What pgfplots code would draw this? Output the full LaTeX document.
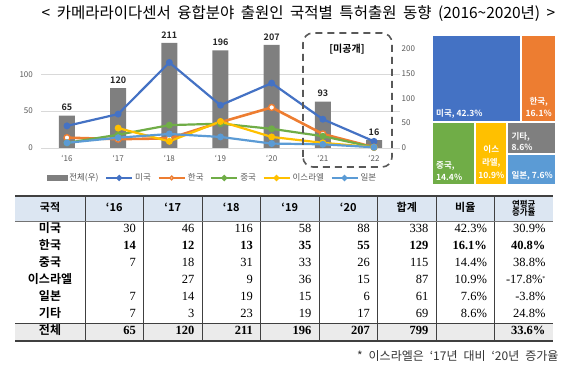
\documentclass[border=0pt]{standalone}
\usepackage{pgfplots}
\pgfplotsset{compat=1.18}
\usepackage{fontspec}
\setmainfont{Noto Sans CJK KR}[BoldFont={Noto Sans CJK KR Bold}]
\newfontfamily\numfont{Liberation Serif}
\definecolor{cUS}{HTML}{4472C4}
\definecolor{cKR}{HTML}{ED7D31}
\definecolor{cCN}{HTML}{70AD47}
\definecolor{cIL}{HTML}{FFC000}
\definecolor{cJP}{HTML}{5B9BD5}
\definecolor{cBar}{HTML}{7F7F7F}
\definecolor{cHead}{HTML}{DCE6F2}
\definecolor{cTot}{HTML}{EBEBEB}
\definecolor{cTick}{HTML}{595959}
\definecolor{cGrid}{HTML}{D9D9D9}
\newcommand\numN{\numfont\fontsize{12.5}{14}\selectfont}
\newcommand\numB{\numfont\bfseries\fontsize{12.5}{14}\selectfont}
\newcommand\nameF{\bfseries\fontsize{12}{13}\selectfont}
% #1 y, #2 font, #3 name, #4..#9: '16 '17 '18 '19 '20 total
\newcommand\trow[9]{%
  \node[font=\nameF,anchor=mid] at (50pt,#1pt) {#3};
  \node[font=#2,anchor=mid east] at (139.5pt,#1pt) {#4};
  \node[font=#2,anchor=mid east] at (198pt,#1pt) {#5};
  \node[font=#2,anchor=mid east] at (256.5pt,#1pt) {#6};
  \node[font=#2,anchor=mid east] at (315pt,#1pt) {#7};
  \node[font=#2,anchor=mid east] at (373.5pt,#1pt) {#8};
  \node[font=#2,anchor=mid east] at (432pt,#1pt) {#9};
}
\newcommand\trowb[4]{%
  \node[font=#2,anchor=mid east] at (490.5pt,#1pt) {#3};
  \node[font=#2,anchor=mid east] at (549pt,#1pt) {#4};
}
\begin{document}
\begin{tikzpicture}
\path[use as bounding box] (0pt,0pt) rectangle (570pt,366pt);
% title
\node[font=\fontsize{15.5}{17}\selectfont] at (298.5pt,352.7pt) {\spaceskip=0.42em < 카메라라이다센서 융합분야 출원인 국적별 특허출원 동향 (2016\textasciitilde 2020년) >};

% ---------- axis A: grid + left ticks + x ticks
\begin{axis}[at={(41.4pt,218pt)}, anchor=south west, scale only axis,
  width=358.2pt, height=110.6pt, xmin=-0.5, xmax=6.5, ymin=0, ymax=150,
  ytick={0,50,100}, ymajorgrids, grid style={cGrid, line width=0.6pt},
  axis line style={draw=none}, major tick length=0pt,
  xtick={0,...,6}, xticklabels={‘16,‘17,‘18,‘19,‘20,‘21,‘22},
  ticklabel style={font=\fontsize{8}{9}\selectfont, text=cTick},
  /pgf/number format/assume math mode=true,
  xticklabel style={yshift=-4pt}, yticklabel style={xshift=-5pt}]
\end{axis}

% ---------- axis B: bars on right axis
\begin{axis}[at={(41.4pt,218pt)}, anchor=south west, scale only axis,
  width=358.2pt, height=110.6pt, xmin=-0.5, xmax=6.5, ymin=0, ymax=221.9,
  axis y line*=right, hide x axis, axis line style={draw=none}, major tick length=0pt,
  ytick={0,50,100,150,200},
  ticklabel style={font=\fontsize{8}{9}\selectfont, text=cTick},
  /pgf/number format/assume math mode=true,
  yticklabel style={xshift=-1.5pt},
  ybar, bar width=16pt,
  nodes near coords,
  every node near coord/.append style={font=\bfseries\fontsize{9}{10}\selectfont, text=black!85, yshift=1pt}]
\addplot[fill=cBar, draw=none] coordinates {(0,65) (1,120) (2,211) (3,196) (4,207) (5,93) (6,16)};
\end{axis}

% ---------- axis C: lines on left axis + legend
\begin{axis}[at={(41.4pt,218pt)}, anchor=south west, scale only axis,
  width=358.2pt, height=110.6pt, xmin=-0.5, xmax=6.5, ymin=0, ymax=150,
  hide axis, clip=false,
  legend style={at={(axis description cs:0.478,-0.271)}, anchor=center, draw=none, fill=none,
    font=\fontsize{8.5}{10}\selectfont, text=cTick,
    /tikz/every even column/.append style={column sep=4.5pt}},
  legend columns=6,
  legend image code/.code={\draw[#1,mark=none] (0pt,0pt) -- (26pt,0pt);
     \draw[#1,mark size=1.8pt] plot coordinates {(13pt,0pt)};}]
\addlegendimage{legend image code/.code={\fill[cBar] (0pt,-2.5pt) rectangle (20pt,2.5pt);}}
\addlegendentry{전체(우)}
\addplot[cUS, line width=2.2pt, mark=*, mark size=2.3pt, mark options={fill=cUS}]
  coordinates {(0,30) (1,46) (2,116) (3,58) (4,88) (5,39) (6,9)};
\addlegendentry{미국}
\addplot[cKR, line width=2.6pt, mark=*, mark size=3pt, mark options={fill=white, line width=1.4pt}]
  coordinates {(0,14) (1,12) (2,13) (3,35) (4,55) (5,19) (6,1)};
\addlegendentry{한국}
\addplot[cCN, line width=2.2pt, mark=*, mark size=2.3pt, mark options={fill=cCN}]
  coordinates {(0,7) (1,18) (2,31) (3,33) (4,26) (5,16) (6,1)};
\addlegendentry{중국}
\addplot[cIL, line width=2.2pt, mark=*, mark size=2.3pt, mark options={fill=cIL}]
  coordinates {(1,27) (2,9) (3,36) (4,15) (5,7) (6,1)};
\addlegendentry{이스라엘}
\addplot[cJP, line width=2.2pt, mark=*, mark size=2.3pt, mark options={fill=cJP}]
  coordinates {(0,7) (1,14) (2,19) (3,15) (4,6) (5,5) (6,1)};
\addlegendentry{일본}
\end{axis}

% unpublished box
\draw[cTick, line width=1.6pt, dash pattern=on 7pt off 5pt, rounded corners=10pt]
  (303pt,199pt) rectangle (392pt,333pt);
\node[font=\bfseries\fontsize{10}{11}\selectfont] at (347pt,317pt) {[미공개]};

% ---------- treemap
\begin{axis}[at={(433pt,182pt)}, anchor=south west, scale only axis,
  width=122pt, height=148pt, xmin=0, xmax=122, ymin=0, ymax=148, hide axis, clip=false]
\addplot[fill=cUS, draw=none] coordinates {(0,62.7) (87.3,62.7) (87.3,148) (0,148)};
\addplot[fill=cKR, draw=none] coordinates {(89.3,62.7) (122,62.7) (122,148) (89.3,148)};
\addplot[fill=cCN, draw=none] coordinates {(0,0) (41.3,0) (41.3,60.7) (0,60.7)};
\addplot[fill=cIL, draw=none] coordinates {(43.3,0) (73.3,0) (73.3,60.7) (43.3,60.7)};
\addplot[fill=cBar, draw=none] coordinates {(75.3,30.5) (122,30.5) (122,60.7) (75.3,60.7)};
\addplot[fill=cJP, draw=none] coordinates {(75.3,0) (122,0) (122,28.5) (75.3,28.5)};
\node[anchor=west, text=white, font=\bfseries\fontsize{8.5}{9}\selectfont, inner sep=0pt] at (axis cs:3,70) {미국, 42.3\%};
\node[align=center, text=white, font=\bfseries\fontsize{8.5}{12}\selectfont, inner sep=0pt] at (axis cs:105.7,77) {한국,\\16.1\%};
\node[align=left, anchor=west, text=white, font=\bfseries\fontsize{8.5}{12}\selectfont, inner sep=0pt] at (axis cs:3,13) {중국,\\14.4\%};
\node[align=center, text=white, font=\bfseries\fontsize{8.5}{13}\selectfont, inner sep=0pt] at (axis cs:58.3,22.5) {이스\\라엘,\\10.9\%};
\node[align=left, anchor=west, text=white, font=\bfseries\fontsize{8.5}{11.5}\selectfont, inner sep=0pt] at (axis cs:78.3,42.5) {기타,\\8.6\%};
\node[anchor=west, text=white, font=\bfseries\fontsize{8.5}{9}\selectfont, inner sep=0pt] at (axis cs:78.3,8.3) {일본, 7.6\%};
\end{axis}

% ---------- table
\fill[cHead] (15pt,170pt) rectangle (553pt,145pt);
\fill[cTot] (15pt,42.1pt) rectangle (553pt,25pt);
\foreach \x in {85,143.5,202,260.5,319,377.5,436,494.5}
  \draw[black!75, line width=0.6pt] (\x pt,170pt) -- (\x pt,25pt);
\draw[black!75, line width=1.6pt] (15pt,170pt) -- (553pt,170pt);
\draw[black!55, line width=0.6pt] (15pt,145pt) -- (553pt,145pt);
\draw[black!75, line width=1.1pt] (15pt,42.1pt) -- (553pt,42.1pt);
\draw[black!75, line width=1.6pt] (15pt,25pt) -- (553pt,25pt);
% header
\begin{scope}[every node/.style={font=\bfseries\fontsize{11}{12}\selectfont, anchor=mid}]
\node at (50pt,157.5pt) {국적};
\node at (114.25pt,157.5pt) {‘16};
\node at (172.75pt,157.5pt) {‘17};
\node at (231.25pt,157.5pt) {‘18};
\node at (289.75pt,157.5pt) {‘19};
\node at (348.25pt,157.5pt) {‘20};
\node at (406.75pt,157.5pt) {합계};
\node at (465.25pt,157.5pt) {비율};
\node[align=center, font=\bfseries\fontsize{8.5}{8.5}\selectfont, anchor=center] at (523.75pt,157.5pt) {연평균\\증가율};
\end{scope}
% body
\trow{136.45}{\numN}{미국}{30}{46}{116}{58}{88}{338}
\trowb{136.45}{\numN}{42.3\%}{30.9\%}
\trow{119.35}{\numB}{한국}{14}{12}{13}{35}{55}{129}
\trowb{119.35}{\numB}{16.1\%}{40.8\%}
\trow{102.25}{\numN}{중국}{7}{18}{31}{33}{26}{115}
\trowb{102.25}{\numN}{14.4\%}{38.8\%}
\trow{85.15}{\numN}{이스라엘}{}{27}{9}{36}{15}{87}
\trowb{85.15}{\numN}{10.9\%}{-17.8\%\raisebox{0.5ex}{\fontsize{6}{6}\selectfont *}}
\trow{68.05}{\numN}{일본}{7}{14}{19}{15}{6}{61}
\trowb{68.05}{\numN}{7.6\%}{-3.8\%}
\trow{50.95}{\numN}{기타}{7}{3}{23}{19}{17}{69}
\trowb{50.95}{\numN}{8.6\%}{24.8\%}
\trow{33.85}{\numB}{전체}{65}{120}{211}{196}{207}{799}
\trowb{33.85}{\numB}{}{33.6\%}
% footnote
\node[anchor=mid east, font=\fontsize{12}{13}\selectfont, text=black!80] at (562pt,8pt) {\spaceskip=0.5em * 이스라엘은 ‘17년 대비 ‘20년 증가율};
\end{tikzpicture}
\end{document}
